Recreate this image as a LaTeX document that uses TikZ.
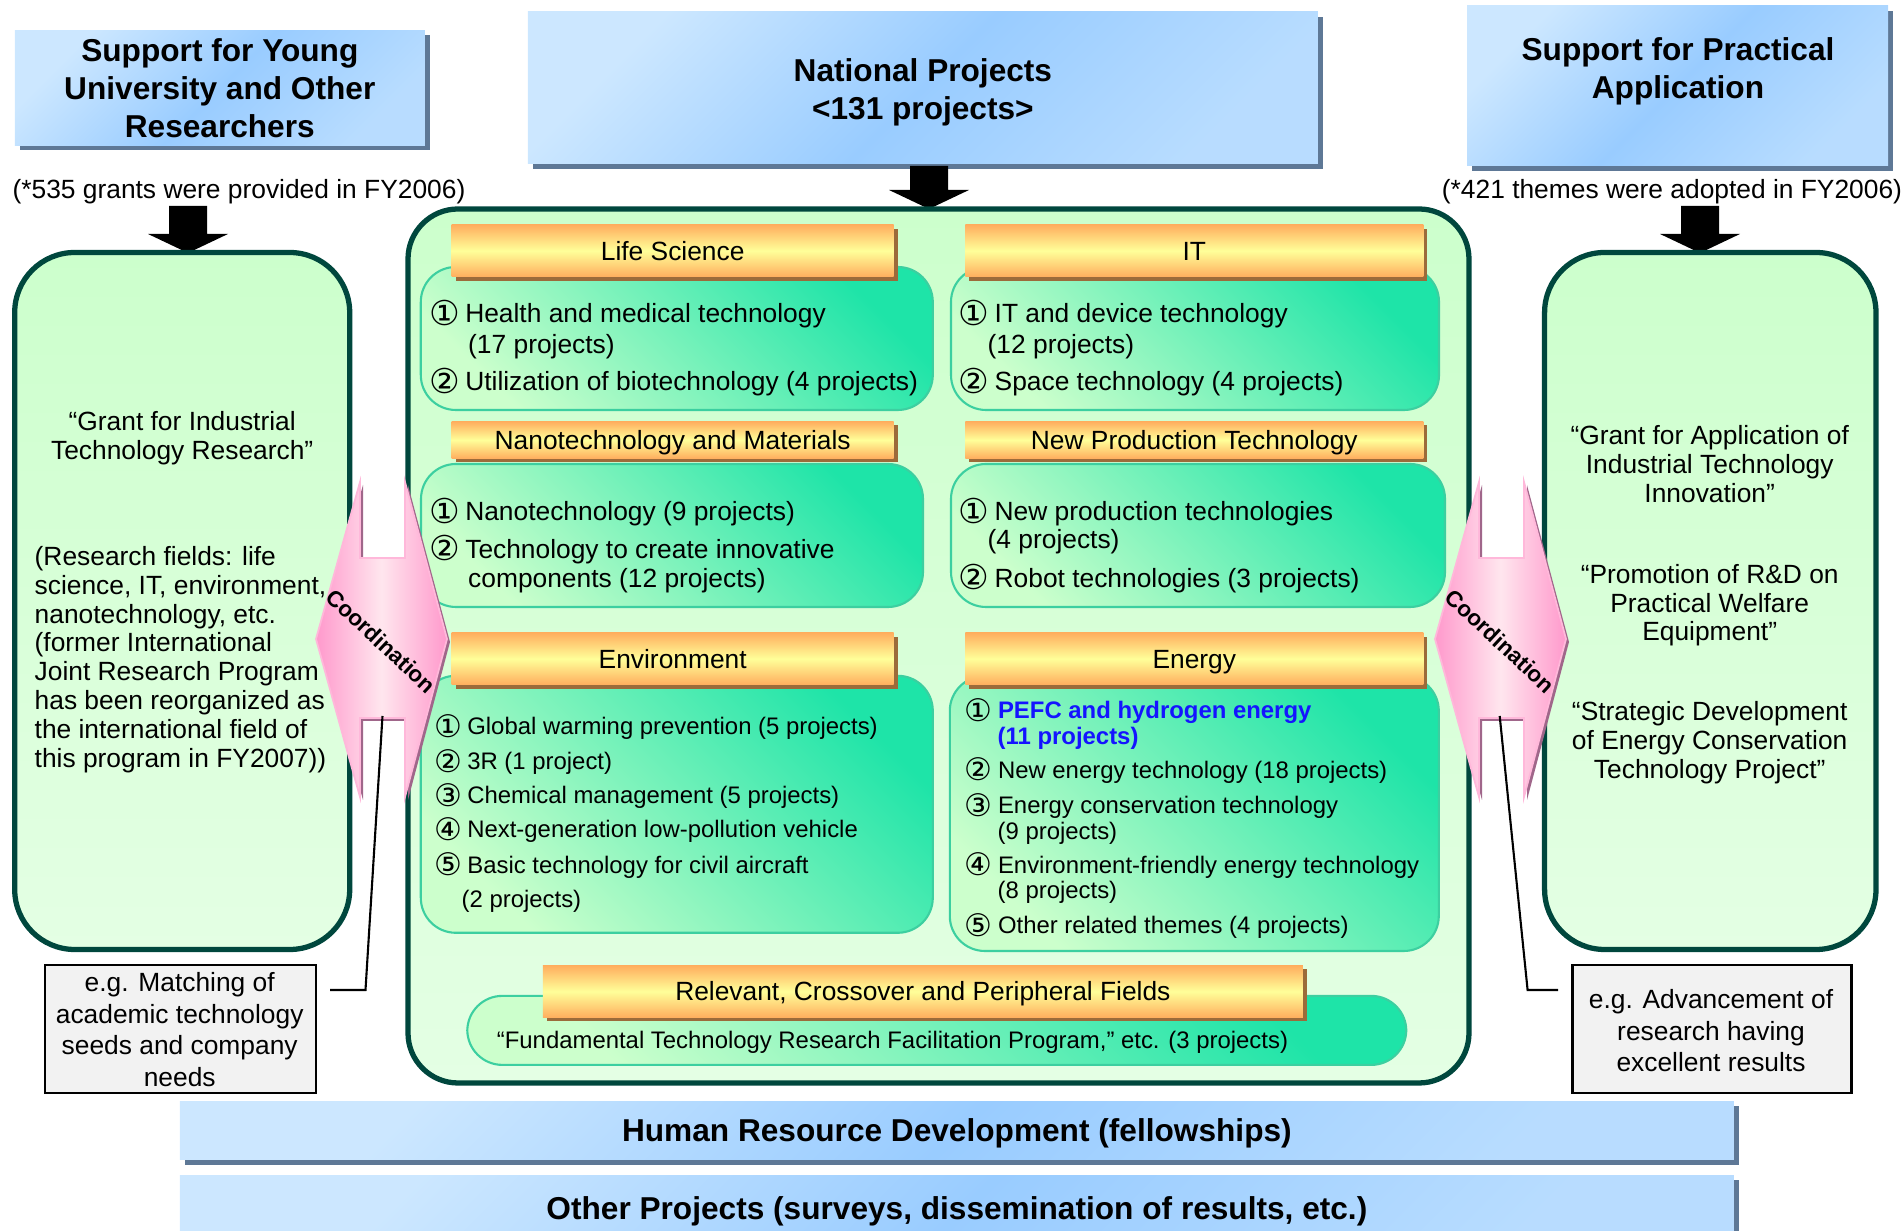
\documentclass[tikz,border=0pt]{standalone}
\usepackage{fontspec}
\setmainfont{Liberation Sans}
\newfontfamily\circfont[Scale=1.3]{DejaVu Sans}
\usepackage{tikz}
\usetikzlibrary{shadows}

\definecolor{skylt}{HTML}{CCE7FF}
\definecolor{skydk}{HTML}{99CCFF}
\definecolor{skyshadow}{HTML}{5E7896}
\definecolor{mint}{HTML}{CCFFCC}
\definecolor{mintlt}{HTML}{E4FFE4}
\definecolor{darkteal}{HTML}{00473D}
\definecolor{aqua}{HTML}{1EE4A8}
\definecolor{aquaedge}{HTML}{3CCFA0}
\definecolor{orng}{HTML}{FFAE5E}
\definecolor{lemon}{HTML}{FFFF99}
\definecolor{brownshadow}{HTML}{9C6B3A}
\definecolor{pinkdk}{HTML}{FF99CC}
\definecolor{pinklt}{HTML}{FFE6EE}
\definecolor{pinkedge}{HTML}{FFB8DA}
\definecolor{pinkshadow}{HTML}{A0668A}
\definecolor{notegrey}{HTML}{F2F2F2}
\definecolor{pefcblue}{HTML}{1414FF}

\newcommand{\cnum}[1]{\raisebox{-0.7pt}{\circfont #1}\kern1.5pt}

\begin{document}
\begin{tikzpicture}[
  x=1cm, y=-1cm,
  bodyfont/.style={font=\fontsize{7.5}{8.6}\selectfont, inner sep=0pt, text height=5.4pt, text depth=0pt},
  smallfont/.style={font=\fontsize{6.8}{7.3}\selectfont, inner sep=0pt, text height=4.9pt, text depth=0pt},
  parafont/.style={font=\fontsize{7.5}{#1}\selectfont, inner sep=0pt, anchor=base},
  parafont/.default=8.2,
  titlefont/.style={font=\fontsize{9}{10.9}\selectfont\bfseries, inner sep=0pt, align=center, anchor=base},
  coordfont/.style={font=\fontsize{6.4}{7}\selectfont\bfseries, inner sep=0pt},
  bluebox/.style={draw=none, left color=skylt, right color=skylt!60!skydk, middle color=skydk, shading angle=45,
    drop shadow={shadow xshift=0.05cm, shadow yshift=-0.05cm, fill=skyshadow, opacity=1}},
  greenbox/.style={rounded corners=0.6cm, draw=darkteal, line width=1.5pt, top color=mint, bottom color=mintlt},
  fieldbox/.style={rounded corners=0.35cm, draw=aquaedge, line width=0.6pt, left color=mint, right color=aqua, shading angle=135},
  header/.style={bodyfont, minimum height=0.52cm, top color=orng, bottom color=orng, middle color=lemon,
    drop shadow={shadow xshift=0.04cm, shadow yshift=-0.04cm, fill=brownshadow, opacity=1}},
  pinkarrow/.style={left color=pinkdk, right color=pinkdk, middle color=pinklt, draw=pinkedge, line width=0.5pt,
    drop shadow={shadow xshift=0.03cm, shadow yshift=-0.03cm, fill=pinkshadow, opacity=1}},
  notebox/.style={fill=notegrey, draw=black, line width=0.7pt},
  pics/downblock/.style 2 args={code={
    \fill[black] (-0.19,0) -- (0.19,0) -- (0.19,#1) -- (0.40,#1) -- (0,#2)
      -- (-0.40,#1) -- (-0.19,#1) -- cycle;}},
]
\useasboundingbox (0,0) rectangle (19.04,12.31);

% --- top row ---
\node[bluebox, minimum width=4.10cm, minimum height=1.15cm] (young) at (2.198,0.88) {};
\node[titlefont] (young-t) at (2.198,1.377) {Support for Young\\University and Other\\Researchers};
\node[bluebox, minimum width=7.90cm, minimum height=1.52cm] (national) at (9.228,0.88) {};
\node[titlefont] (national-t) at (9.229,1.194) {National Projects\\<131 projects>};
\node[bluebox, minimum width=4.21cm, minimum height=1.60cm] (practical) at (16.775,0.86) {};
\node[titlefont] (practical-t) at (16.78,0.988) {Support for Practical\\Application};

\node[bodyfont] (young-n) at (2.39,1.894) {(*535 grants were provided in FY2006)};
\node[bodyfont] (practical-n) at (16.72,1.894) {(*421 themes were adopted in FY2006)};

% block arrows
\pic at (1.88,2.06) {downblock={0.28}{0.47}};
\pic at (9.29,1.66) {downblock={0.24}{0.43}};
\pic at (17.00,2.06) {downblock={0.28}{0.47}};

% --- side and centre panels ---
\node[greenbox, minimum width=3.35cm, minimum height=6.97cm] (basic) at (1.822,6.01) {};
\node[greenbox, minimum width=3.314cm, minimum height=6.97cm] (applied) at (17.103,6.01) {};
\node[greenbox, rounded corners=0.5cm, minimum width=10.61cm, minimum height=8.74cm] (fields) at (9.385,6.46) {};

\node[parafont=8.25, align=center] (basic-1) at (1.822,4.60) {“Grant for Industrial\\Technology Research”};
\node[parafont=8.2, align=left, anchor=base west] (basic-2) at (0.34,7.672) {(Research fields: life\\science, IT, environment,\\nanotechnology, etc.\\(former International\\Joint Research Program\\has been reorganized as\\the international field of\\this program in FY2007))};

\node[parafont=8.2, align=center] (applied-1) at (17.097,5.025) {“Grant for Application of\\Industrial Technology\\Innovation”};
\node[parafont=8.2, align=center] (applied-2) at (17.097,6.409) {“Promotion of R\&D on\\Practical Welfare\\Equipment”};
\node[parafont=8.2, align=center] (applied-3) at (17.097,7.782) {“Strategic Development\\of Energy Conservation\\Technology Project”};

% field boxes
\node[fieldbox, minimum width=5.12cm, minimum height=1.43cm] (ls-box) at (6.768,3.385) {};
\node[fieldbox, minimum width=4.88cm, minimum height=1.43cm] (it-box) at (11.95,3.385) {};
\node[fieldbox, minimum width=5.02cm, minimum height=1.43cm] (nano-box) at (6.72,5.355) {};
\node[fieldbox, minimum width=4.94cm, minimum height=1.43cm] (npt-box) at (11.98,5.355) {};
\node[fieldbox, minimum width=5.12cm, minimum height=2.57cm] (env-box) at (6.768,8.043) {};
\node[fieldbox, minimum width=4.89cm, minimum height=2.75cm] (en-box) at (11.943,8.135) {};
\node[fieldbox, minimum width=9.39cm, minimum height=0.69cm] (rel-box) at (9.368,10.304) {};

\node[header, minimum width=4.42cm] (ls) at (6.727,2.508) {Life Science};
\node[header, minimum width=4.58cm] (it) at (11.943,2.508) {IT};
\node[header, minimum width=4.42cm, minimum height=0.37cm] (nano) at (6.727,4.40) {Nanotechnology and Materials};
\node[header, minimum width=4.58cm, minimum height=0.37cm] (npt) at (11.943,4.40) {New Production Technology};
\node[header, minimum width=4.42cm] (env) at (6.727,6.588) {Environment};
\node[header, minimum width=4.58cm] (en) at (11.943,6.588) {Energy};
\node[header, minimum width=7.60cm] (rel) at (9.229,9.915) {Relevant, Crossover and Peripheral Fields};

% item lists
\foreach \x/\y/\words [count=\k] in {
  4.286/3.133/{\cnum{①}Health and medical technology},
  4.675/3.436/{(17 projects)},
  4.286/3.813/{\cnum{②}Utilization of biotechnology (4 projects)}}
  \node[bodyfont, anchor=west] (ls-\k) at (\x,\y) {\words};
\foreach \x/\y/\words [count=\k] in {
  9.58/3.133/{\cnum{①}IT and device technology},
  9.87/3.436/{(12 projects)},
  9.58/3.813/{\cnum{②}Space technology (4 projects)}}
  \node[bodyfont, anchor=west] (it-\k) at (\x,\y) {\words};
\foreach \x/\y/\words [count=\k] in {
  4.286/5.112/{\cnum{①}Nanotechnology (9 projects)},
  4.286/5.489/{\cnum{②}Technology to create innovative},
  4.675/5.780/{components (12 projects)}}
  \node[bodyfont, anchor=west] (nano-\k) at (\x,\y) {\words};
\foreach \x/\y/\words [count=\k] in {
  9.58/5.112/{\cnum{①}New production technologies},
  9.87/5.391/{(4 projects)},
  9.58/5.780/{\cnum{②}Robot technologies (3 projects)}}
  \node[bodyfont, anchor=west] (npt-\k) at (\x,\y) {\words};
\foreach \x/\y/\words [count=\k] in {
  4.335/7.262/{\cnum{①}Global warming prevention (5 projects)},
  4.335/7.614/{\cnum{②}3R (1 project)},
  4.335/7.954/{\cnum{③}Chemical management (5 projects)},
  4.335/8.294/{\cnum{④}Next-generation low-pollution vehicle},
  4.335/8.646/{\cnum{⑤}Basic technology for civil aircraft},
  4.61/8.986/{(2 projects)}}
  \node[smallfont, anchor=west] (env-\k) at (\x,\y) {\words};
\foreach \x/\y/\words [count=\k] in {
  9.642/7.104/{\cnum{①}{\color{pefcblue}\bfseries PEFC and hydrogen energy}},
  9.97/7.359/{{\color{pefcblue}\bfseries (11 projects)}},
  9.642/7.699/{\cnum{②}New energy technology (18 projects)},
  9.642/8.051/{\cnum{③}Energy conservation technology},
  9.97/8.306/{(9 projects)},
  9.642/8.646/{\cnum{④}Environment-friendly energy technology},
  9.97/8.901/{(8 projects)},
  9.642/9.253/{\cnum{⑤}Other related themes (4 projects)}}
  \node[smallfont, anchor=west] (en-\k) at (\x,\y) {\words};
\node[smallfont] (rel-1) at (8.925,10.394) {“Fundamental Technology Research Facilitation Program,” etc. (3 projects)};

% coordination arrows
\foreach \dx/\side in {0/l, 11.19/r} {
  \begin{scope}[xshift=\dx cm]
    \path[pinkarrow] (3.16,6.39) -- (3.60,4.82) -- (3.60,5.58) -- (4.05,5.58) -- (4.05,4.82)
      -- (4.47,6.39) -- (4.05,7.97) -- (4.05,7.18) -- (3.60,7.18) -- (3.60,7.97) -- cycle;
    \node[coordfont, rotate=-43] (\side-coord) at (3.81,6.41) {Coordination};
  \end{scope}
}

% example notes
\node[notebox, minimum width=2.71cm, minimum height=1.275cm] (l-note) at (1.804,10.29) {};
\node[parafont=9, align=center] (l-note-t) at (1.797,10.865) {e.g. Matching of\\academic technology\\seeds and company\\needs};
\node[notebox, minimum width=2.79cm, minimum height=1.275cm] (r-note) at (17.12,10.29) {};
\node[parafont=9, align=center] (r-note-t) at (17.11,10.72) {e.g. Advancement of\\research having\\excellent results};

\coordinate (l-hook) at (3.30,9.90);
\coordinate (l-knee) at (3.655,9.90);
\coordinate (l-end) at (3.825,7.16);
\draw[line width=0.6pt] (l-hook) -- (l-knee) -- (l-end);
\coordinate (r-hook) at (15.58,9.90);
\coordinate (r-knee) at (15.276,9.90);
\coordinate (r-end) at (14.997,7.16);
\draw[line width=0.6pt] (r-hook) -- (r-knee) -- (r-end);

% --- bottom bars ---
\node[bluebox, minimum width=15.54cm, minimum height=0.583cm] (hrd) at (9.569,11.305) {};
\node[titlefont] (hrd-t) at (9.569,11.419) {Human Resource Development (fellowships)};
\node[bluebox, minimum width=15.54cm, minimum height=0.80cm] (other) at (9.569,12.154) {};
\node[titlefont] (other-t) at (9.569,12.196) {Other Projects (surveys, dissemination of results, etc.)};

\end{tikzpicture}
\end{document}
